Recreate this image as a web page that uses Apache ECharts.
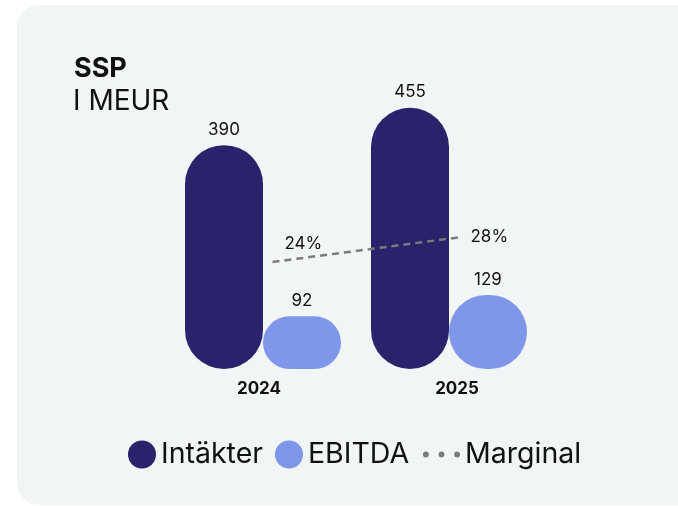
<!DOCTYPE html>
<html>
<head>
<meta charset="utf-8">
<script src="https://cdn.jsdelivr.net/npm/echarts@6/dist/echarts.min.js"></script>
<style>
html,body{margin:0;padding:0;background:#fff;}
#main{width:678px;height:506px;}
</style>
</head>
<body>
<div id="main"></div>
<script>
// data
var years = ['2024', '2025'];
var intakter = [390, 455];
var ebitda = [92, 129];
var marginal = [24, 28];

var navy = '#28236a';
var light = '#7f96e9';
var font = 'Inter, "Noto Sans", sans-serif';

var chart = echarts.init(document.getElementById('main'));

var option = {
	backgroundColor: '#fff',
	animation: false,
	graphic: [
		{
			type: 'rect',
			z: -10,
			shape: {x: 17, y: 5, width: 690, height: 500, r: 22},
			style: {fill: '#f1f5f6'}
		},
		{
			type: 'text',
			left: 74, top: 55,
			style: {text: 'SSP', font: 'bold 27px ' + font, fill: '#111'}
		},
		{
			type: 'text',
			left: 73, top: 88,
			style: {text: 'I MEUR', font: '28px ' + font, fill: '#111'}
		}
	],
	legend: [
		{
			data: ['Intäkter', 'EBITDA'],
			left: 123, top: 435,
			icon: 'circle',
			itemWidth: 28, itemHeight: 28,
			itemGap: 12,
			textStyle: {fontSize: 28.5, color: '#111', fontFamily: font}
		},
		{
			data: ['Marginal'],
			left: 418, top: 435,
			icon: 'path://M0,3a3,3 0 1,0 6,0a3,3 0 1,0 -6,0Z M16,3a3,3 0 1,0 6,0a3,3 0 1,0 -6,0Z M32,3a3,3 0 1,0 6,0a3,3 0 1,0 -6,0Z',
			itemWidth: 37, itemHeight: 28,
			itemStyle: {borderWidth: 0, color: '#7b7b7b'},
			textStyle: {fontSize: 28.5, color: '#111', fontFamily: font}
		}
	],
	grid: [
		{left: 170, right: 136, top: 82, bottom: 137},
		{left: 178, right: 122, top: 82, bottom: 137}
	],
	xAxis: [
		{
			type: 'category',
			gridIndex: 0,
			data: years,
			axisLine: {show: false},
			axisTick: {show: false},
			axisLabel: {
				margin: 11,
				formatter: function (v, i) {
					return i === 0 ? '{l|' + v + '}' : '{r|' + v + '}';
				},
				rich: {
					l: {fontSize: 17, fontWeight: 'bold', color: '#111', fontFamily: font, padding: [0, 8, 0, 0]},
					r: {fontSize: 17, fontWeight: 'bold', color: '#111', fontFamily: font, padding: [0, 0, 0, 16]}
				}
			}
		},
		{
			type: 'category',
			gridIndex: 1,
			data: years,
			show: false
		}
	],
	yAxis: [
		{
			type: 'value',
			gridIndex: 0,
			min: 0, max: 500,
			show: false,
			splitLine: {show: false}
		},
		{
			type: 'value',
			gridIndex: 1,
			min: 6.88, max: 52.8,
			show: false,
			splitLine: {show: false}
		}
	],
	series: [
		{
			name: 'Intäkter',
			type: 'bar',
			xAxisIndex: 0, yAxisIndex: 0,
			data: intakter,
			barWidth: 78,
			barGap: '0%',
			itemStyle: {color: navy, borderRadius: 39},
			label: {show: true, position: 'top', distance: 7, fontSize: 17, color: '#111', fontFamily: font}
		},
		{
			name: 'EBITDA',
			type: 'bar',
			xAxisIndex: 0, yAxisIndex: 0,
			data: ebitda,
			barWidth: 78,
			barGap: '0%',
			itemStyle: {color: light, borderRadius: 39},
			label: {show: true, position: 'top', distance: 7, fontSize: 17, color: '#111', fontFamily: font}
		},
		{
			name: 'Marginal',
			type: 'line',
			xAxisIndex: 1, yAxisIndex: 1,
			data: [
				{value: marginal[0], label: {offset: [0, -18]}},
				{value: marginal[1], label: {distance: 9}}
			],
			symbol: 'circle',
			symbolSize: 0,
			z: 5,
			itemStyle: {color: '#7b7b7b'},
			lineStyle: {color: '#7b7b7b', width: 2.5, type: [7, 5]},
			label: {
				show: true, position: 'right', distance: 12,
				fontSize: 17, color: '#111', fontFamily: font,
				formatter: '{c}%'
			}
		}
	]
};

chart.setOption(option);
</script>
</body>
</html>
